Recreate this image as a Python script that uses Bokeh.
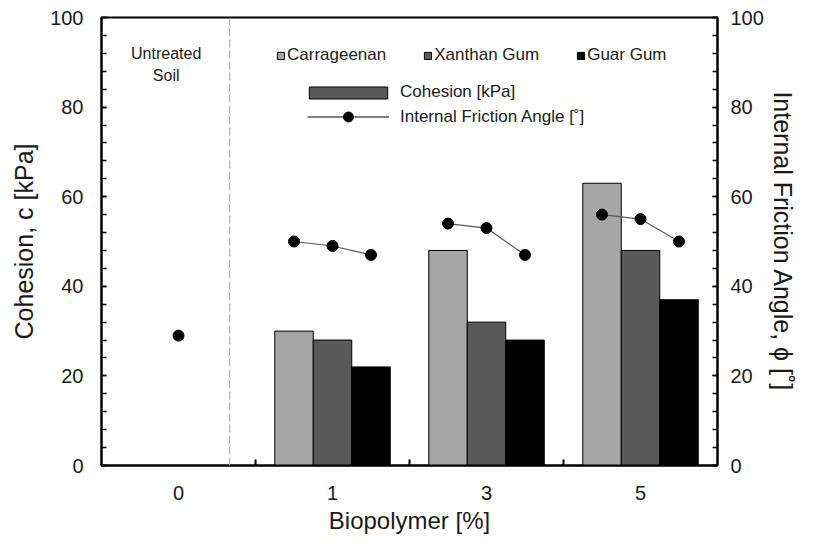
from bokeh.plotting import figure
from bokeh.models import (Legend, LegendItem, Range1d, LinearAxis, SingleIntervalTicker,
                          FixedTicker, Span, Label, ColumnDataSource)
from bokeh.embed import file_html
from bokeh.resources import INLINE

# ---------------- data ----------------
categories = ["0", "1", "3", "5"]          # biopolymer content [%]
treated = ["1", "3", "5"]
series_names = ["Carrageenan", "Xanthan Gum", "Guar Gum"]
cohesion_carrageenan = [30, 48, 63]
cohesion_xanthan = [28, 32, 48]
cohesion_guar = [22, 28, 37]
phi_untreated = [29]
phi_carrageenan = [50, 54, 56]
phi_xanthan = [49, 53, 55]
phi_guar = [47, 47, 50]
y_ticks_interval = 20

FONT = "Liberation Sans"
TXT = "#1a1a1a"
colors = ["#A6A6A6", "#595959", "#000000"]
offsets = [-0.25, 0.0, 0.25]
bar_w = 0.25
NAN = float("nan")

def cat_x(c):
    return categories.index(c) + 0.5

p = figure(width=799, height=536, output_backend="svg", toolbar_location=None,
           x_range=Range1d(0, len(categories)), y_range=Range1d(0, 100),
           min_border_left=101, min_border_right=78, min_border_top=17, min_border_bottom=70)
p.extra_y_ranges = {"phi": Range1d(0, 100)}
p.xgrid.visible = False
p.ygrid.visible = False
p.outline_line_color = "black"
p.outline_line_width = 2
p.background_fill_color = "white"
p.border_fill_color = "white"

# x axis
xax = p.xaxis[0]
xax.ticker = FixedTicker(ticks=[cat_x(c) for c in categories],
                         minor_ticks=[i for i in range(1, len(categories))])
xax.major_label_overrides = {cat_x(c): c for c in categories}
xax.major_tick_line_color = None
xax.minor_tick_in = 6
xax.minor_tick_out = 0
xax.minor_tick_line_width = 2
xax.minor_tick_line_color = "black"
xax.axis_line_width = 2
xax.axis_line_color = "black"
xax.major_label_text_font = FONT
xax.major_label_text_font_size = "20px"
xax.major_label_text_color = TXT
xax.major_label_standoff = 14
xax.axis_label = "Biopolymer [%]"
xax.axis_label_text_font = FONT
xax.axis_label_text_font_size = "24px"
xax.axis_label_text_font_style = "normal"
xax.axis_label_text_color = TXT
xax.axis_label_standoff = 4

def style_y(ax, title):
    ax.ticker = SingleIntervalTicker(interval=y_ticks_interval, num_minor_ticks=5)
    ax.major_tick_in = 5
    ax.major_tick_out = 0
    ax.minor_tick_in = 5
    ax.minor_tick_out = 0
    ax.major_tick_line_width = 1.5
    ax.minor_tick_line_width = 1.5
    ax.major_tick_line_color = "black"
    ax.minor_tick_line_color = "black"
    ax.axis_line_width = 2
    ax.axis_line_color = "black"
    ax.major_label_text_font = FONT
    ax.major_label_text_font_size = "20px"
    ax.major_label_text_color = TXT
    ax.major_label_standoff = 18
    ax.axis_label = title
    ax.axis_label_text_font = FONT
    ax.axis_label_text_font_size = "25px"
    ax.axis_label_text_font_style = "normal"
    ax.axis_label_text_color = TXT
    ax.axis_label_standoff = 9

style_y(p.yaxis[0], "Cohesion, c [kPa]")
rax = LinearAxis(y_range_name="phi")
style_y(rax, "Internal Friction Angle, ϕ [˚]")
rax.major_label_standoff = 13
rax.axis_label_standoff = 2
p.add_layout(rax, "right")

# divider
p.add_layout(Span(location=0.832, dimension="height", line_color="#A6A6A6",
                  line_dash="8 3", line_width=1))

# bars
bar_series = [cohesion_carrageenan, cohesion_xanthan, cohesion_guar]
bar_renderers = []
for name, vals, col, off in zip(series_names, bar_series, colors, offsets):
    src = ColumnDataSource(dict(x=[cat_x(c) + off for c in treated], top=vals))
    r = p.vbar(x="x", top="top", width=bar_w, source=src, fill_color=col,
               line_color="black", line_width=1)
    bar_renderers.append(r)

# friction angle
phi_series = [phi_carrageenan, phi_xanthan, phi_guar]
xs, ys = [], []
for i, c in enumerate(treated):
    xs.append([cat_x(c) + off for off in offsets])
    ys.append([s[i] for s in phi_series])
line_r = p.multi_line(xs=xs, ys=ys, line_color="#595959", line_width=1.2, y_range_name="phi")
px = [cat_x("0")] + [x for row in xs for x in row]
py = phi_untreated + [y for row in ys for y in row]
pt_r = p.scatter(x=px, y=py, size=11, marker="circle", fill_color="black",
                 line_color="black", y_range_name="phi")

# legend-only renderers (no visible marks)
dummy_bar = p.vbar(x=[NAN], top=[NAN], width=0.2, fill_color="#595959",
                   line_color="black", line_width=1)
dummy_line = p.line(x=[NAN, NAN], y=[NAN, NAN], line_color="black", line_width=1)

common = dict(padding=0, margin=0, border_line_color=None, background_fill_alpha=0,
              label_text_font=FONT, label_text_font_size="17px", label_text_color=TXT)
leg1 = Legend(items=[LegendItem(label=n, renderers=[r]) for n, r in zip(series_names, bar_renderers)],
              orientation="horizontal", location=(175, 400), glyph_width=9, glyph_height=9,
              label_standoff=2, spacing=37, **common)
leg2 = Legend(items=[LegendItem(label="Cohesion [kPa]", renderers=[dummy_bar])],
              location=(198, 363), glyph_width=98, glyph_height=15, label_standoff=3, **common)
leg3 = Legend(items=[LegendItem(label="Internal Friction Angle [˚]", renderers=[dummy_line, pt_r])],
              location=(206, 336), glyph_width=82, glyph_height=25, label_standoff=11, **common)
p.add_layout(leg1)
p.add_layout(leg2)
p.add_layout(leg3)

# untreated label
for txt, yv in [("Untreated", 92), ("Soil", 87)]:
    p.add_layout(Label(x=0.42, y=yv, text=txt, text_align="center", text_baseline="middle",
                       text_font=FONT, text_font_size="16px", text_color=TXT))

open("out.html", "w").write(file_html(p, INLINE))
